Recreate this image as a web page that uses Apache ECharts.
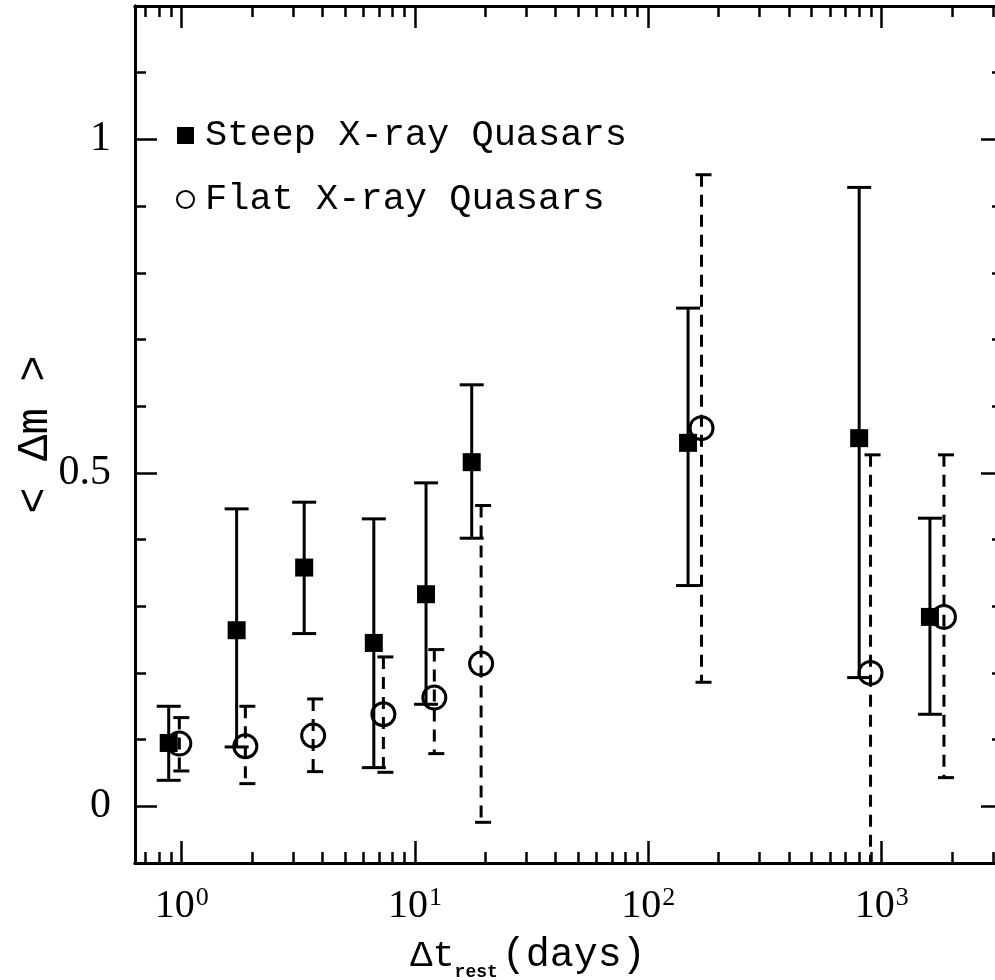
<!DOCTYPE html>
<html>
<head>
<meta charset="utf-8">
<script src="https://cdn.jsdelivr.net/npm/echarts@6/dist/echarts.min.js"></script>
<style>
  html, body { margin: 0; padding: 0; background: #fff; }
  #chart { width: 995px; height: 980px; }
</style>
</head>
<body>
<div id="chart"></div>
<script>
// Mean magnitude difference <Δm> versus rest-frame time lag (days)

// Steep X-ray quasars: lag, mean, lower and upper end of the error bar
const steepDays = [0.88, 1.72, 3.35, 6.66, 11.15, 17.5, 148, 801, 1610];
const steepMean = [0.095, 0.264, 0.358, 0.245, 0.318, 0.516, 0.545, 0.552, 0.284];
const steepLow  = [0.039, 0.089, 0.259, 0.058, 0.153, 0.402, 0.331, 0.193, 0.138];
const steepHigh = [0.150, 0.446, 0.456, 0.431, 0.485, 0.632, 0.747, 0.928, 0.432];

// Flat X-ray quasars
const flatDays = [0.977, 1.875, 3.66, 7.32, 12.1, 19.2, 169, 896, 1849];
const flatMean = [0.094, 0.090, 0.106, 0.138, 0.163, 0.214, 0.567, 0.200, 0.284];
const flatLow  = [0.053, 0.034, 0.052, 0.051, 0.079, -0.024, 0.186, -0.2, 0.043];
const flatHigh = [0.133, 0.150, 0.161, 0.224, 0.235, 0.451, 0.947, 0.527, 0.527];

// Axis ticks
const xMajor = [1, 10, 100, 1000];
const xMinor = [0.7, 0.8, 0.9, 2, 3, 4, 5, 6, 7, 8, 9, 20, 30, 40, 50, 60, 70, 80, 90,
                200, 300, 400, 500, 600, 700, 800, 900, 2000, 3000];
const yMajor = [0, 0.5, 1];
const yMinor = [0.1, 0.2, 0.3, 0.4, 0.6, 0.7, 0.8, 0.9, 1.1];

const seriesNames = ['Steep X-ray Quasars', 'Flat X-ray Quasars'];

const lg = Math.log10;
const X_MIN = -0.2, X_MAX = 3.52;    // log10 of the day range shown
const Y_MIN = -0.085, Y_MAX = 1.2;

const MONO = 'Liberation Mono';
const SERIF = 'Liberation Serif';

function xAxis(position, ticks, len, labels) {
  return {
    type: 'value', position: position, min: X_MIN, max: X_MAX,
    axisLine: { show: true, onZero: false, lineStyle: { color: '#000', width: 3 } },
    axisTick: { show: true, inside: true, length: len, customValues: ticks.map(lg),
                lineStyle: { color: '#000', width: 2.5 } },
    axisLabel: labels ? {
      show: true, customValues: xMajor.map(lg), margin: 22,
      formatter: v => '{b|10}{s|' + Math.round(v) + '}',
      rich: {
        b: { fontFamily: SERIF, fontSize: 40, color: '#000', verticalAlign: 'bottom' },
        s: { fontFamily: SERIF, fontSize: 26, color: '#000', verticalAlign: 'bottom', padding: [0, 0, 15, 1] }
      }
    } : { show: false },
    splitLine: { show: false }
  };
}

function yAxis(position, ticks, len, labels) {
  return {
    type: 'value', position: position, min: Y_MIN, max: Y_MAX,
    axisLine: { show: true, onZero: false, lineStyle: { color: '#000', width: 3 } },
    axisTick: { show: true, inside: true, length: len, customValues: ticks,
                lineStyle: { color: '#000', width: 2.5 } },
    axisLabel: labels ? {
      show: true, customValues: yMajor, margin: 24,
      formatter: v => String(v),
      fontFamily: SERIF, fontSize: 42, color: '#000'
    } : { show: false },
    splitLine: { show: false }
  };
}

// Vertical error bar with caps, positioned through the cartesian coordinate system
function errorBar(dashed) {
  return function (params, api) {
    const x = api.value(0), lo = api.value(1), hi = api.value(2);
    const top = api.coord([x, hi]);
    const bot = api.coord([x, lo]);
    const style = { stroke: '#000', lineWidth: 3, fill: null };
    const dash = dashed ? { lineDash: [12, 8] } : {};
    const capL = dashed ? -6 : -12, capR = dashed ? 10 : 12;
    return {
      type: 'group',
      children: [
        { type: 'line', shape: { x1: top[0], y1: top[1], x2: bot[0], y2: bot[1] },
          style: Object.assign({}, style, dash) },
        { type: 'line', shape: { x1: top[0] + capL, y1: top[1], x2: top[0] + capR, y2: top[1] }, style: style },
        { type: 'line', shape: { x1: bot[0] + capL, y1: bot[1], x2: bot[0] + capR, y2: bot[1] }, style: style }
      ]
    };
  };
}

const steepBars = steepDays.map((d, i) => [lg(d), steepLow[i], steepHigh[i]]);
const flatBars = flatDays.map((d, i) => [lg(d), flatLow[i], flatHigh[i]]);
const steepPts = steepDays.map((d, i) => [lg(d), steepMean[i]]);
const flatPts = flatDays.map((d, i) => [lg(d), flatMean[i]]);

const chart = echarts.init(document.getElementById('chart'), null, { renderer: 'canvas' });

const xs = [
  xAxis('bottom', xMajor, 22, true),
  xAxis('bottom', xMinor, 11, false),
  xAxis('top', xMajor, 22, false),
  xAxis('top', xMinor, 11, false)
];
xs[0].name = '{a|\u0394t}{r|rest}{d|(days)}';
xs[0].nameLocation = 'middle';
xs[0].nameGap = 72;
xs[0].nameMoveOverlap = false;
xs[0].nameTextStyle = {
  padding: [0, 82, 0, 0],
  rich: {
    a: { fontFamily: MONO, fontSize: 37, color: '#000', verticalAlign: 'bottom' },
    r: { fontFamily: MONO, fontSize: 18, fontWeight: 'bold', color: '#000', verticalAlign: 'bottom', padding: [0, 0, -6, 0] },
    d: { fontFamily: MONO, fontSize: 40, color: '#000', verticalAlign: 'bottom', padding: [0, 0, 0, 4] }
  }
};

const ys = [
  yAxis('left', yMajor, 22, true),
  yAxis('left', yMinor, 11, false),
  yAxis('right', yMajor, 22, false),
  yAxis('right', yMinor, 11, false)
];
ys[0].name = '< \u0394m >';
ys[0].nameLocation = 'middle';
ys[0].nameGap = 78;
ys[0].nameRotate = 90;
ys[0].nameMoveOverlap = false;
ys[0].nameTextStyle = { fontFamily: MONO, fontSize: 44, color: '#000' };

chart.setOption({
  animation: false,
  backgroundColor: '#fff',
  grid: { left: 135, top: 6, width: 868, height: 857, containLabel: false, outerBoundsMode: 'none' },
  xAxis: xs,
  yAxis: ys,
  legend: {
    orient: 'vertical', left: 171, top: 112, itemGap: 27,
    itemWidth: 17, itemHeight: 17, selectedMode: false,
    textStyle: { fontFamily: MONO, fontSize: 37, color: '#000', padding: [0, 0, 0, 6] },
    data: [
      { name: seriesNames[0], icon: 'rect' },
      { name: seriesNames[1], icon: 'circle' }
    ]
  },
  series: [
    { type: 'custom', name: 'steep-err', clip: true, renderItem: errorBar(false),
      data: steepBars, encode: { x: 0, y: [1, 2] }, silent: true, z: 2 },
    { type: 'custom', name: 'flat-err', clip: true, renderItem: errorBar(true),
      data: flatBars, encode: { x: 0, y: [1, 2] }, silent: true, z: 2 },
    { type: 'scatter', name: seriesNames[0], data: steepPts, symbol: 'rect', symbolSize: 18,
      itemStyle: { color: '#000', opacity: 1 }, z: 3, silent: true },
    { type: 'scatter', name: seriesNames[1], data: flatPts, symbol: 'circle', symbolSize: 23,
      itemStyle: { color: 'transparent', borderColor: '#000', borderWidth: 3, opacity: 1 }, z: 4, silent: true }
  ]
});
</script>
</body>
</html>
